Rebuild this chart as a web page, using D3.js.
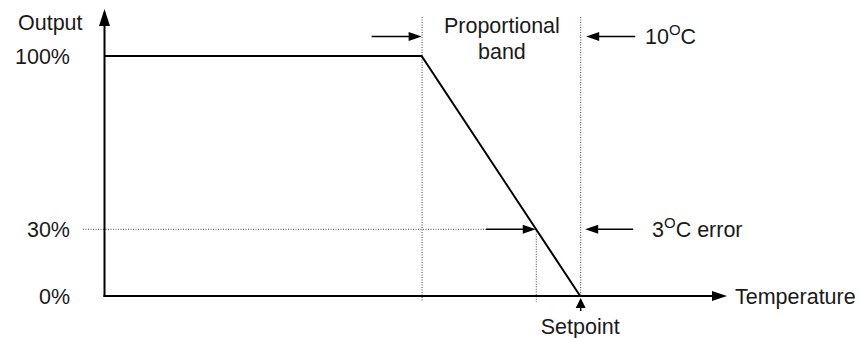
<!DOCTYPE html>
<html><head><meta charset="utf-8">
<script src="https://cdn.jsdelivr.net/npm/d3@7"></script>
<style>
html,body{margin:0;padding:0;background:#fff;}
text{font-family:"Liberation Sans",Arial,sans-serif;fill:#1a1a1a;}
</style></head>
<body>
<script>
// ---- data ----
const lineTemps   = [-30, -10, 0];      // °C relative to setpoint
const lineOutputs = [100, 100, 0];      // % output
const bandStart   = -10;                // start of proportional band (°C)
const setpoint    = 0;                  // setpoint (°C)
const errorTemp   = -2.8;               // marked error point
const errorOutput = 28;                 // output at marked error point (as drawn)
const yTickValues = [0, errorOutput, 100];
const yTickLabels = ["0%", "30%", "100%"];
const xDomain     = [-30, 9.26];
const yDomain     = [0, 100];

const W = 861, H = 338;
const svg = d3.select("body").append("svg").attr("width", W).attr("height", H);

const x = d3.scaleLinear().domain(xDomain).range([104.5, 727]);
const y = d3.scaleLinear().domain(yDomain).range([296, 56]);

const FS = 21.5;
const ink = "#000";

function arrowHead(tipX, tipY, dir, len, wid) {
  // dir: 'up','down','left','right'
  let p;
  if (dir === "up") p = [[tipX, tipY], [tipX - wid/2, tipY + len], [tipX + wid/2, tipY + len]];
  if (dir === "right") p = [[tipX, tipY], [tipX - len, tipY - wid/2], [tipX - len, tipY + wid/2]];
  if (dir === "left") p = [[tipX, tipY], [tipX + len, tipY - wid/2], [tipX + len, tipY + wid/2]];
  svg.append("path").attr("d", d3.line()(p) + "Z").attr("fill", ink);
}
function hLine(x1, x2, yy, w, dash) {
  const l = svg.append("line").attr("x1", x1).attr("x2", x2).attr("y1", yy).attr("y2", yy)
    .attr("stroke", dash ? "#444" : ink).attr("stroke-width", w);
  if (dash) l.attr("stroke-dasharray", dash);
}
function vLine(xx, y1, y2, w, dash) {
  const l = svg.append("line").attr("x1", xx).attr("x2", xx).attr("y1", y1).attr("y2", y2)
    .attr("stroke", dash ? "#444" : ink).attr("stroke-width", w);
  if (dash) l.attr("stroke-dasharray", dash);
}

const DOT = "1,1.5";

// dotted guide lines
vLine(x(bandStart) + 0.5, 17, y(0) + 6, 1, DOT);
vLine(x(setpoint) + 0.5, 17, y(0), 1, DOT);
vLine(x(errorTemp) + 0.5, y(errorOutput), y(0) + 6, 1, DOT);
hLine(83, x(errorTemp) - 50, y(errorOutput) + 0.5, 1, DOT);

// axes
const x0 = x(xDomain[0]), y0 = y(0);
vLine(x0, y0 + 1, 24, 2);
arrowHead(x0, 9, "up", 17, 11);
hLine(x0 - 1, x(xDomain[1]) - 12, y0, 2.2);
arrowHead(x(xDomain[1]), y0, "right", 15, 10);

// output line
svg.append("path")
  .datum(lineTemps.map((t, i) => [t, lineOutputs[i]]))
  .attr("d", d3.line().x(d => x(d[0])).y(d => y(d[1])))
  .attr("fill", "none").attr("stroke", ink).attr("stroke-width", 2);

// y tick labels
svg.selectAll("text.ytick").data(yTickValues).enter().append("text")
  .attr("class", "ytick")
  .attr("x", 70).attr("y", d => y(d)).attr("dy", "0.36em")
  .attr("text-anchor", "end").attr("font-size", FS)
  .text((d, i) => yTickLabels[i]);

// axis titles
svg.append("text").attr("x", 18).attr("y", 29.5).attr("font-size", FS).text("Output");
svg.append("text").attr("x", 735).attr("y", y0).attr("dy", "0.36em").attr("font-size", FS).text("Temperature");

// proportional band arrows
const ay = 36.5;
hLine(x(bandStart) - 50, x(bandStart) - 10, ay, 1.5);
arrowHead(x(bandStart), ay, "right", 13, 9);
hLine(x(setpoint) + 15, x(setpoint) + 55, ay, 1.5);
arrowHead(x(setpoint) + 6, ay, "left", 13, 9);

const pb = svg.append("text").attr("text-anchor", "middle").attr("font-size", FS);
pb.append("tspan").attr("x", (x(bandStart) + x(setpoint)) / 2 + 1).attr("y", 33).text("Proportional");
pb.append("tspan").attr("x", (x(bandStart) + x(setpoint)) / 2 + 1).attr("y", 59).text("band");

function degText(tx, ty, num, rest) {
  const t = svg.append("text").attr("x", tx).attr("y", ty).attr("font-size", FS);
  t.append("tspan").text(num);
  t.append("tspan").attr("font-size", 15).attr("dy", -9).text("O");
  t.append("tspan").attr("dy", 9).text("C" + rest);
}
degText(645, 44, "10", "");

// error marker arrows
const ey = y(errorOutput) + 0.5;
hLine(x(errorTemp) - 50, x(errorTemp) - 10, ey, 1.5);
arrowHead(x(errorTemp), ey, "right", 13, 9);
hLine(x(setpoint) + 15, x(setpoint) + 53, ey, 1.5);
arrowHead(x(setpoint) + 5, ey, "left", 13, 9);
degText(652, ey + 7.7, "3", " error");

// setpoint arrow
arrowHead(x(setpoint) + 0.5, y0 + 2, "up", 10, 10);
vLine(x(setpoint) + 0.5, y0 + 10, y0 + 15, 1.5);
svg.append("text").attr("x", x(setpoint)).attr("y", 334).attr("text-anchor", "middle").attr("font-size", FS).text("Setpoint");
</script>
</body></html>
